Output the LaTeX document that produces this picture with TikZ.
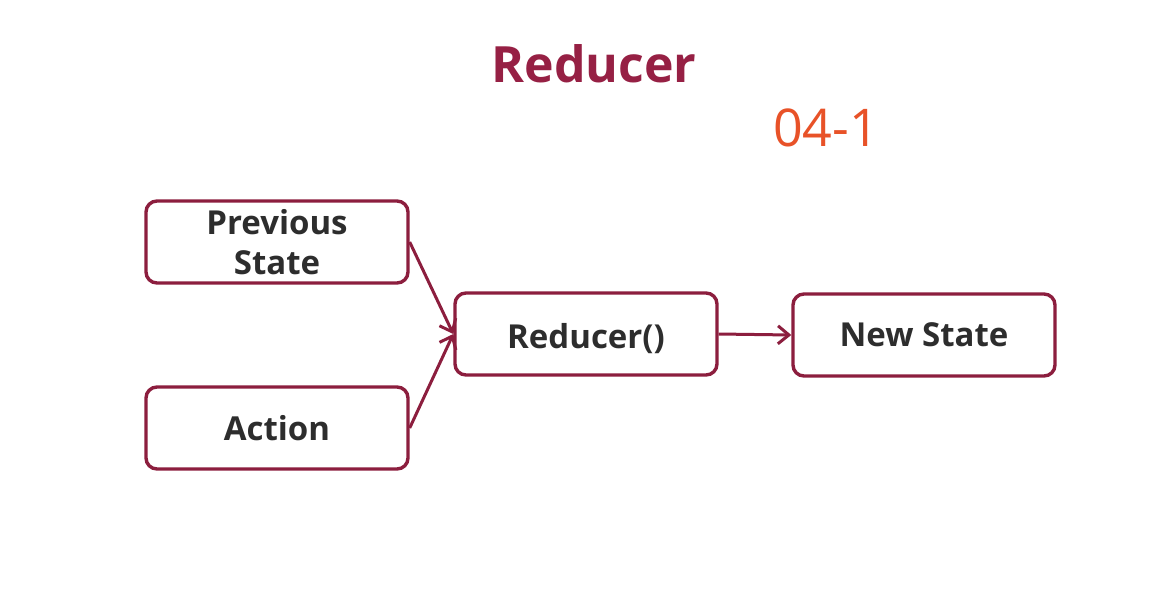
\documentclass[tikz,border=0pt]{standalone}
\usepackage{fontspec}
\setmainfont{Open Sans}
\usetikzlibrary{arrows.meta}
\definecolor{crimson}{RGB}{150,32,68}
\definecolor{boxline}{RGB}{140,30,62}
\definecolor{txt}{RGB}{45,45,45}
\definecolor{orangered}{RGB}{232,82,40}
\tikzset{
  flowbox/.style={draw=boxline, line width=3.4pt, rounded corners=11pt, fill=white,
    minimum width=262pt, minimum height=82pt, align=center, text=txt,
    font=\fontsize{33}{40}\selectfont\bfseries},
  conn/.style={draw=boxline, line width=3pt, -{Straight Barb[length=11pt,width=18pt]}}
}
\begin{document}
\begin{tikzpicture}[x=1pt,y=-1pt]
\useasboundingbox[fill=white] (0,0) rectangle (1156,598);
\node[text=crimson, font=\fontsize{50}{60}\selectfont\bfseries] (title) at (594,64) {Reducer};
\node[text=orangered, font=\fontsize{52}{60}\selectfont] (num) at (826,128) {04-1};
\node[flowbox] (prev) at (277,242) {Previous\\State};
\node[flowbox] (act) at (277,428) {Action};
\node[flowbox, text depth=0pt] (red) at (586,334) {\raisebox{-3pt}{Reducer()}};
\node[flowbox] (new) at (924,335) {New State};
\draw[conn] (prev.east) -- (red.west);
\draw[conn] (act.east) -- (red.west);
\draw[conn] (red.east) -- (new.west);
\end{tikzpicture}
\end{document}
